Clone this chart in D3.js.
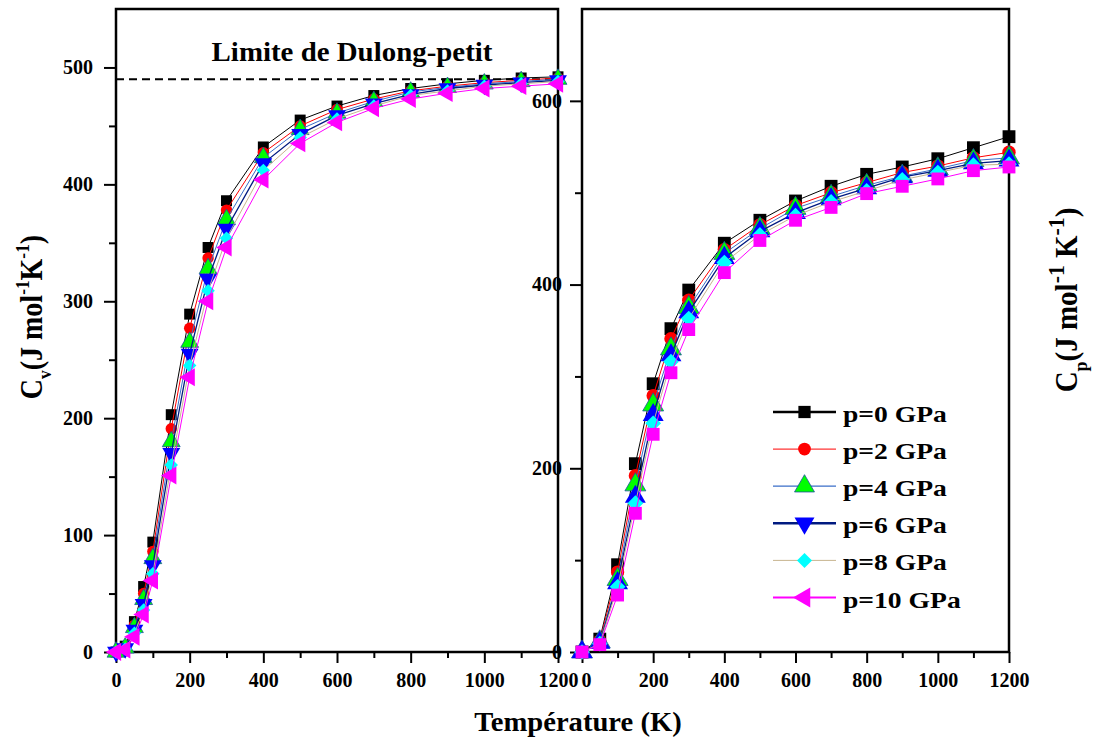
<!DOCTYPE html>
<html>
<head>
<meta charset="utf-8">
<script src="https://cdn.jsdelivr.net/npm/d3@7"></script>
<style>
  body { margin: 0; background: #fff; }
  svg text { font-family: "Liberation Serif", "Times New Roman", serif; font-weight: bold; fill: #000; }
</style>
</head>
<body>
<svg id="chart" width="1097" height="743"></svg>
<script>
// ---- data -------------------------------------------------------------
const pressureLabels = ["p=0 GPa", "p=2 GPa", "p=4 GPa", "p=6 GPa", "p=8 GPa", "p=10 GPa"];

// Heat capacity at constant volume, Cv (J mol-1 K-1)
const tempsCv = [0, 25, 50, 75, 100, 150, 200, 250, 300, 400, 500, 600, 700, 800, 900, 1000, 1100, 1200];
const cvP0  = [0, 5,   26, 56, 94, 203, 289, 346, 386, 432, 455, 467, 476, 482, 486, 489, 491, 492];
const cvP2  = [0, 4,   23, 50, 86, 191, 277, 337, 378, 427, 450, 464, 473, 480, 484, 487, 489, 491];
const cvP4  = [0, 3.5, 21, 45, 80, 180, 265, 328, 370, 423, 447, 461, 471, 479, 483, 486, 488, 490];
const cvP6  = [0, 3,   19, 41, 74, 170, 255, 319, 362, 418, 443, 459, 469, 477, 482, 485, 487, 489];
const cvP8  = [0, 2.5, 16, 36, 67, 160, 245, 309, 354, 412, 440, 456, 467, 476, 480, 484, 486, 488];
const cvP10 = [0, 2,   13, 32, 61, 151, 235, 300, 346, 404, 435, 453, 465, 473, 478, 482, 484, 486];

// Heat capacity at constant pressure, Cp (J mol-1 K-1)
const tempsCp = [0, 50, 100, 150, 200, 250, 300, 400, 500, 600, 700, 800, 900, 1000, 1100, 1200];
const cpP0  = [0, 14, 95, 205, 292, 352, 394, 445, 470, 491, 507, 520, 528, 537, 549, 561];
const cpP2  = [0, 12, 87, 192, 279, 341, 383, 438, 465, 486, 500, 511, 522, 529, 538, 544];
const cpP4  = [0, 11, 79, 182, 269, 330, 375, 434, 461, 483, 496, 508, 518, 526, 535, 538];
const cpP6  = [0, 10, 75, 169, 258, 323, 370, 429, 458, 478, 493, 505, 517, 524, 532, 535];
const cpP8  = [0,  9, 71, 162, 249, 316, 363, 424, 454, 475, 490, 502, 514, 522, 530, 531];
const cpP10 = [0,  8, 62, 151, 237, 304, 351, 413, 448, 470, 484, 499, 507, 515, 524, 528];

const dulongPetit = 490;

// axis ticks
const tempMajorTicks = [0, 200, 400, 600, 800, 1000, 1200];
const tempMinorTicks = [100, 300, 500, 700, 900, 1100];
const cvMajorTicks = [0, 100, 200, 300, 400, 500];
const cvMinorTicks = [50, 150, 250, 350, 450];
const cpMajorTicks = [0, 200, 400, 600];
const cpMinorTicks = [100, 300, 500];

// ---- styling ----------------------------------------------------------
const fillColors = ["#000000", "#ff0000", "#00ff00", "#0000ff", "#00ffff", "#ff00ff"];
const lineColors = ["#000000", "#ff0000", "#3a6ec8", "#001a80", "#c8b490", "#ff00ff"];
const legendLineWidths = [2.5, 1, 1.3, 2.6, 1, 1.8];
const plotLineWidths = [1, 1, 1, 1.3, 1, 1];
const shapesCv = ["square", "circle", "triangle", "triangleDown", "diamond", "triangleLeft"];
const shapesCp = ["square", "circle", "triangle", "triangle", "diamond", "square"];

const svg = d3.select("#chart");

const cvSeries = [cvP0, cvP2, cvP4, cvP6, cvP8, cvP10];
const cpSeries = [cpP0, cpP2, cpP4, cpP6, cpP8, cpP10];

// scales
const xCv = d3.scaleLinear().domain([0, 1200]).range([116, 558]);
const yCv = d3.scaleLinear().domain([0, 550]).range([652, 9]);
const xCp = d3.scaleLinear().domain([0, 1200]).range([582, 1009]);
const yCp = d3.scaleLinear().domain([0, 700]).range([652, 9]);

const symbolTypes = {
  square: d3.symbolSquare, circle: d3.symbolCircle, triangle: d3.symbolTriangle,
  triangleDown: d3.symbolTriangle, triangleLeft: d3.symbolTriangle, diamond: d3.symbolSquare
};
const symbolRot = { triangleDown: 180, triangleLeft: -90, diamond: 45 };
const symbolScale = { square: 1, circle: 0.85, triangle: 1.15, triangleDown: 1.15, triangleLeft: 1.15, diamond: 0.75 };

function marker(g, shape, x, y, size, i) {
  const p = g.append("path")
    .attr("d", d3.symbol(symbolTypes[shape], size * symbolScale[shape])())
    .attr("transform", `translate(${x},${y}) rotate(${symbolRot[shape] || 0})`)
    .attr("fill", fillColors[i]);
  if (i === 2) p.attr("stroke", "#1c4fa0").attr("stroke-width", 0.8);
  return p;
}

// text with sub/superscripts
function richText(sel, parts, base) {
  let shift = 0;
  parts.forEach(p => {
    const target = p.sub ? 0.3 : p.sup ? -0.42 : 0;
    const fs = (p.sub || p.sup) ? (p.scale || 0.62) : 1;
    const ts = sel.append("tspan").text(p.t).style("font-size", (fs * base) + "px");
    const dy = (target - shift) * base;
    if (dy) ts.attr("dy", dy);
    shift = target;
  });
}

function drawPanel(g, xs, ys, yMajor, yMinor, temps, series, shapes, markerSize, yLabelPad, zeroDx) {
  const xMinor = g.append("g").attr("transform", `translate(0,${ys.range()[0]})`)
    .call(d3.axisBottom(xs).tickValues(tempMinorTicks).tickSize(6).tickFormat(""));
  const xMajor = g.append("g").attr("transform", `translate(0,${ys.range()[0]})`)
    .call(d3.axisBottom(xs).tickValues(tempMajorTicks).tickSize(11).tickPadding(10).tickFormat(d3.format("d")));
  const yMin = g.append("g").attr("transform", `translate(${xs.range()[0]},0)`)
    .call(d3.axisLeft(ys).tickValues(yMinor).tickSize(7).tickFormat(""));
  const yMaj = g.append("g").attr("transform", `translate(${xs.range()[0]},0)`)
    .call(d3.axisLeft(ys).tickValues(yMajor).tickSize(12).tickPadding(yLabelPad).tickFormat(d3.format("d")));
  [xMinor, xMajor, yMin, yMaj].forEach(a => {
    a.select(".domain").remove();
    a.selectAll(".tick line").attr("stroke", "#000").attr("stroke-width", 2);
    a.selectAll("text").attr("font-size", null).style("font-size", "20px")
      .style("font-family", '"Liberation Serif", "Times New Roman", serif').style("font-weight", "bold");
  });
  // the "0" under the shared panel edge sits just right of the neighbouring "1200"
  if (zeroDx) xMajor.selectAll(".tick text").filter(d => d === 0).attr("dx", zeroDx);

  // frame
  g.append("rect")
    .attr("x", xs.range()[0]).attr("y", ys.range()[1])
    .attr("width", xs.range()[1] - xs.range()[0])
    .attr("height", ys.range()[0] - ys.range()[1])
    .attr("fill", "none").attr("stroke", "#000").attr("stroke-width", 2.5);

  // series: line then markers, in order
  series.forEach((vals, i) => {
    const sg = g.append("g");
    const pts = temps.map((t, k) => [t, vals[k]]);
    sg.append("path")
      .attr("d", d3.line().x(d => xs(d[0])).y(d => ys(d[1]))(pts))
      .attr("fill", "none").attr("stroke", lineColors[i]).attr("stroke-width", plotLineWidths[i]);
    pts.forEach(d => marker(sg, shapes[i], xs(d[0]), ys(d[1]), markerSize, i));
  });
}

const gCv = svg.append("g");
const gCp = svg.append("g");

// Dulong-Petit limit (drawn under Cv curves)
gCv.append("line")
  .attr("x1", xCv(0)).attr("x2", xCv(1200))
  .attr("y1", yCv(dulongPetit)).attr("y2", yCv(dulongPetit))
  .attr("stroke", "#000").attr("stroke-width", 2).attr("stroke-dasharray", "8,5");

drawPanel(gCv, xCv, yCv, cvMajorTicks, cvMinorTicks, tempsCv, cvSeries, shapesCv, 120, 11, 0);
drawPanel(gCp, xCp, yCp, cpMajorTicks, cpMinorTicks, tempsCp, cpSeries, shapesCp, 165, 8, 4);

// Dulong-Petit caption
svg.append("g").attr("transform", "translate(352,61) scale(1.07,1)")
  .append("text").attr("text-anchor", "middle").style("font-size", "27px")
  .text("Limite de Dulong-petit");

// x-axis title
svg.append("g").attr("transform", "translate(578,731) scale(1.06,1)")
  .append("text").attr("text-anchor", "middle").style("font-size", "27px")
  .text("Température (K)");

// Cv axis title
const cvTitle = svg.append("g").attr("transform", "translate(42,317) rotate(-90) scale(1.0,1.1)")
  .append("text").attr("text-anchor", "middle").style("font-size", "28px");
richText(cvTitle, [
  { t: "C" }, { t: "v", sub: true }, { t: "(J mol" }, { t: "-1", sup: true },
  { t: "K" }, { t: "-1", sup: true }, { t: ")" }
], 28);

// Cp axis title (right side)
const cpTitle = svg.append("g").attr("transform", "translate(1077,300) rotate(-90) scale(1.0,1.1)")
  .append("text").attr("text-anchor", "middle").style("font-size", "29px");
richText(cpTitle, [
  { t: "C" }, { t: "p", sub: true }, { t: "(J mol" }, { t: "-1", sup: true, scale: 0.75 },
  { t: " K" }, { t: "-1", sup: true, scale: 0.75 }, { t: ")" }
], 29);

// legend
const legend = svg.append("g");
pressureLabels.forEach((lab, i) => {
  const cy = 412 + i * 37.1;
  legend.append("line").attr("x1", 773).attr("x2", 836).attr("y1", cy).attr("y2", cy)
    .attr("stroke", lineColors[i]).attr("stroke-width", legendLineWidths[i]);
  marker(legend, shapesCv[i], 804.5, cy, 150, i);
  legend.append("g").attr("transform", `translate(843,${cy + 10}) scale(1.15,1)`)
    .append("text").style("font-size", "24px").text(lab);
});
</script>
</body>
</html>
